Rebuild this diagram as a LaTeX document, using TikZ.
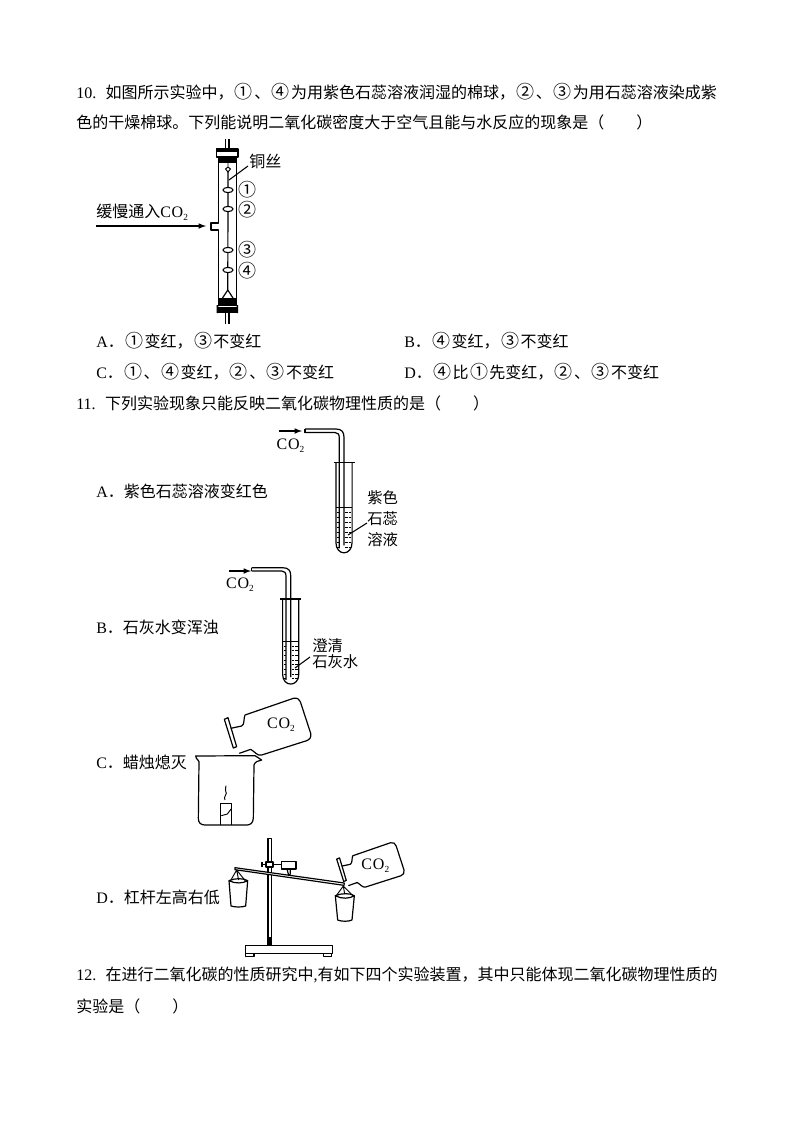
\documentclass[tikz,border=0pt]{standalone}
\usepackage{fontspec}
\setmainfont{Liberation Serif}
\newfontfamily\cjk{Noto Sans CJK SC}
\newcommand{\la}[1]{{\rmfamily #1}}
\newcommand{\ci}[1]{\makebox[15.6pt]{\fontsize{13.5}{14}\selectfont #1}}
\newcommand{\cotwo}{{\rmfamily\fontsize{12}{14}\selectfont C\kern0.6pt O\raisebox{-2pt}{\fontsize{7}{8}\selectfont 2}}}
\tikzset{
    line/.style={font=\cjk\fontsize{12}{14}\selectfont, anchor=west, inner sep=0pt},
    tag/.style={font=\cjk\fontsize{11.5}{13}\selectfont, inner sep=0pt},
    glass/.style={draw=black, line width=0.9pt, line join=round},
    leader/.style={draw=black, line width=0.8pt},
    flow/.style={draw=black, line width=0.9pt, -{latex}},
    pics/gasbottle/.style={code={
        \draw[glass] (152,115) -- (185,108) .. controls (195,103) and (190,85) .. (195,75)
            -- (340,25) .. controls (352,22) and (358,28) .. (362,38)
            -- (392,130) .. controls (394,142) and (390,148) .. (380,152)
            -- (245,195) .. controls (232,199) and (225,185) .. (212,178) -- (178,190);
        \draw[glass] (133,88) -- (144,83) -- (170,170) -- (160,174) -- cycle;
    }},
    pics/testtube/.style={code={
        \draw[glass] (-10.5,0) -- (10.5,0);
        \draw[glass] (-8.1,0) -- (-8.1,80) .. controls (-8.1,94) and (8.1,94) .. (8.1,80) -- (8.1,0);
        \draw[glass] (-39,-33.3) -- (-8,-33.3) .. controls (-2,-33.3) and (0,-30) .. (0,-25) -- (0,83);
        \draw[glass] (-39,-29.8) -- (-9,-29.8) .. controls (-6,-29.8) and (-4.7,-28) .. (-4.7,-24) -- (-4.7,86);
        \draw[glass] (-39,-33.3) -- (-39,-29.8);
        \draw[line width=0.7pt] (-8.1,45.4) -- (8.1,45.4);
        % Draw the dashes in the liquid
        \foreach \y in {50,55,...,85} {
            \draw[line width=0.7pt] (-7,\y) -- (-5,\y);
            \draw[line width=0.7pt] (1,\y) -- (3.5,\y);
            \draw[line width=0.7pt] (4.5,\y) -- (7,\y);
        }
    }},
}
\begin{document}
\begin{tikzpicture}[x=0.75pt, y=-0.75pt]
    \useasboundingbox[fill=white] (0,0) rectangle (793,1122);

    % Question 10
    \node[line] (q10a) at (76,92) {\la{10.}\hspace{7pt}如图所示实验中，\ci{①}、\ci{④}为用紫色石蕊溶液润湿的棉球，\ci{②}、\ci{③}为用石蕊溶液染成紫};
    \node[line] (q10b) at (76,122) {色的干燥棉球。下列能说明二氧化碳密度大于空气且能与水反应的现象是（\hspace{2em}）};
    \node[line] (q10A) at (96,341) {\la{A}．\ci{①}变红，\ci{③}不变红};
    \node[line] (q10B) at (404,341) {\la{B}．\ci{④}变红，\ci{③}不变红};
    \node[line] (q10C) at (96,372) {\la{C}．\ci{①}、\ci{④}变红，\ci{②}、\ci{③}不变红};
    \node[line] (q10D) at (404,372) {\la{D}．\ci{④}比\ci{①}先变红，\ci{②}、\ci{③}不变红};

    % Draw the column
    \draw[glass] (218.3,148) -- (218.3,223) -- (211,223) -- (211,230) -- (218.3,230) -- (218.3,298);
    \draw[glass] (236.7,148) -- (236.7,298);
    \draw[glass] (225.5,148) -- (225.5,139) (229,148) -- (229,139);
    \draw[glass] (225.5,313) -- (225.5,324) (229,313) -- (229,324);
    \draw[glass, fill=white] (216.5,149) rectangle (238,157);
    \fill (216.5,149) rectangle (238,152);
    \fill (219,157) rectangle (236,163);
    \fill (218.3,298) rectangle (236.7,313);
    \draw[white, line width=1pt] (217,306.5) -- (238,306.5);
    \fill (216.5,305) rectangle (218.3,313) (236.7,305) rectangle (238,313);
    \draw[line width=0.7pt] (228,163) -- (228,167) -- (225.5,169) -- (228,172) -- (230.5,169) -- (228,167);
    \draw[line width=0.9pt] (228,172) -- (227.8,290) (222.5,298) -- (227.8,290) -- (233,298);
    \foreach \y in {190,209,250,270}
        \draw[line width=0.8pt, fill=white] (228,\y) ellipse (5 and 2.6);

    \node[tag, font=\cjk\fontsize{13.5}{14}\selectfont] (ball1) at (247.5,190) {①};
    \node[tag, font=\cjk\fontsize{13.5}{14}\selectfont] (ball2) at (247.5,210) {②};
    \node[tag, font=\cjk\fontsize{13.5}{14}\selectfont] (ball3) at (247.5,250) {③};
    \node[tag, font=\cjk\fontsize{13.5}{14}\selectfont] (ball4) at (247.5,271) {④};
    \node[tag, anchor=west, font=\cjk\fontsize{12}{14}\selectfont] (wire) at (249,161) {铜丝};
    \coordinate (wireend) at (229,180);
    \coordinate (wirestart) at (248,166);
    \draw[leader] (wirestart) -- (wireend);

    \node[tag, anchor=west, font=\cjk\fontsize{12}{14}\selectfont] (slow) at (96,212) {缓慢通入\cotwo};
    \coordinate (flowstart) at (96,226);
    \coordinate (flowend) at (206,226);
    \draw[flow] (flowstart) -- (flowend);

    % Question 11
    \node[line] (q11) at (76,403) {\la{11.}\hspace{7pt}下列实验现象只能反映二氧化碳物理性质的是（\hspace{2em}）};
    \node[line] (q11A) at (96,491) {\la{A}．紫色石蕊溶液变红色};
    \node[line] (q11B) at (96,627) {\la{B}．石灰水变浑浊};
    \node[line] (q11C) at (96,762) {\la{C}．蜡烛熄灭};
    \node[line] (q11D) at (96,897) {\la{D}．杠杆左高右低};

    % Draw the two test tubes
    \pic at (344,462.3) {testtube};
    \pic[yscale=0.94] at (290.7,599) {testtube};

    \coordinate (inA) at (279,431);
    \coordinate (tipA) at (302,431);
    \draw[flow] (inA) -- (tipA);
    \node[tag] (coA) at (290.5,446) {\cotwo};
    \node[tag, align=center] (litmus) at (382.7,518.5) {紫色\\[3pt]石蕊\\[3pt]溶液};
    \coordinate (litmusfrom) at (367,523);
    \coordinate (litmusto) at (348,535);
    \draw[leader] (litmusfrom) -- (litmusto);

    \coordinate (inB) at (229,571);
    \coordinate (tipB) at (251,571);
    \draw[flow] (inB) -- (tipB);
    \node[tag] (coB) at (240,585) {\cotwo};
    \node[tag, anchor=west] (lime1) at (312,646) {澄清};
    \node[tag, anchor=west] (lime2) at (312,662) {石灰水};
    \coordinate (limefrom) at (310,657);
    \coordinate (limeto) at (295,668);
    \draw[leader] (limefrom) -- (limeto);

    % Draw the beaker, the candle and the stand
    \begin{scope}[shift={(180,690)}, x=0.25pt, y=-0.25pt]
        \pic at (0,0) {gasbottle};
        \node[tag] (coC) at (303,105) {\cotwo};

        \draw[glass] (57,215) .. controls (52,205) and (45,205) .. (47,198) -- (225,197)
            .. controls (232,204) and (240,204) .. (245,210) .. controls (235,212) and (225,215) .. (222,225)
            -- (220,385) .. controls (219,400) and (210,405) .. (200,405) -- (75,405)
            .. controls (62,405) and (55,398) .. (55,385) -- cycle;
        \draw[glass] (122,405) -- (122,340) -- (155,340) -- (155,405);
        \draw[line width=0.7pt] (124,377) -- (142,372) -- (155,355);
        \draw[line width=0.7pt] (135,330) .. controls (128,320) and (145,312) .. (137,303) .. controls (133,297) and (140,293) .. (138,287);

        % Stand
        \draw[glass] (264,445) rectangle (275,765);
        \fill (263,742) rectangle (276,766);
        \draw[glass] (197,767) rectangle (457,790);
        \draw[glass] (197,790) rectangle (222,800);
        \draw[glass] (430,790) rectangle (455,800);
        \draw[line width=1pt] (248,523) -- (306,523);
        \fill (243,517) rectangle (250,530);
        \draw[glass, fill=white] (258,516) rectangle (279,531);
        \draw[glass, fill=white] (305,514) rectangle (348,537);
        \draw[glass] (321,537) -- (325,552) -- (328,560) -- (331,550) -- (331,537);

        % Lever
        \draw[glass, fill=white] (165,533) -- (493,579) -- (492,586) -- (165,539) -- cycle;

        % Left cup
        \draw[line width=0.7pt] (170,540) -- (150,575) (170,540) -- (198,575) (170,540) -- (176,570);
        \draw[glass, fill=white] (147,572) .. controls (165,582) and (190,580) .. (203,572)
            -- (197,648) .. controls (185,652) and (165,652) .. (153,648) -- cycle;
        \draw[glass] (147,572) .. controls (165,564) and (190,564) .. (203,572);

        % Right cup
        \draw[line width=0.7pt] (490,588) -- (468,618) (490,588) -- (520,618) (490,588) -- (494,612);
        \draw[glass, fill=white] (466,617) .. controls (485,628) and (510,626) .. (523,617)
            -- (516,690) .. controls (505,695) and (485,695) .. (473,690) -- cycle;
        \draw[glass] (466,617) .. controls (485,609) and (510,609) .. (523,617);

        \pic[scale=0.78] at (366.3,438.7) {gasbottle};
        \node[tag] (coD) at (586,527) {\cotwo};
    \end{scope}

    % Question 12
    \node[line] (q12a) at (76,975) {\la{12.}\hspace{7pt}在进行二氧化碳的性质研究中\la{,}有如下四个实验装置，其中只能体现二氧化碳物理性质的};
    \node[line] (q12b) at (76,1006) {实验是（\hspace{2em}）};
\end{tikzpicture}
\end{document}
